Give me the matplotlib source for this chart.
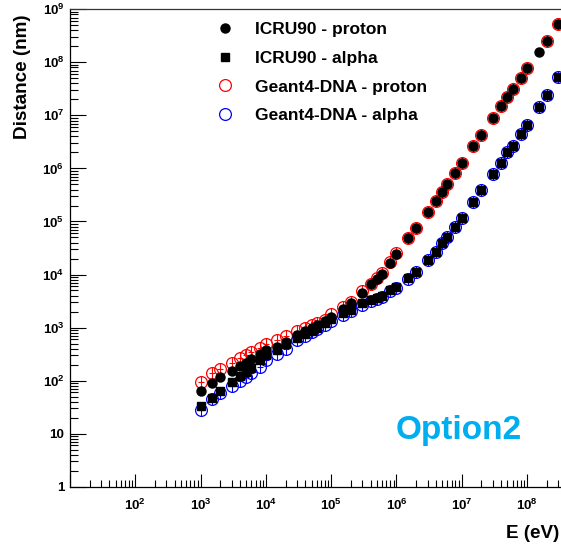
import numpy as np
import matplotlib
matplotlib.use("Agg")
import matplotlib.pyplot as plt
from matplotlib.ticker import FixedLocator, FixedFormatter, LogLocator, NullFormatter

plt.rcParams['font.family'] = ['Liberation Sans', 'DejaVu Sans']
plt.rcParams['font.weight'] = 'bold'
plt.rcParams['mathtext.fontset'] = 'custom'
plt.rcParams['mathtext.rm'] = 'Liberation Sans:bold'
plt.rcParams['mathtext.it'] = 'Liberation Sans:bold'
plt.rcParams['mathtext.bf'] = 'Liberation Sans:bold'

# energies (eV)
energy = [1e3, 1.5e3, 2e3, 3e3, 4e3, 5e3, 6e3, 8e3,
          1e4, 1.5e4, 2e4, 3e4, 4e4, 5e4, 6e4, 8e4,
          1e5, 1.5e5, 2e5, 3e5, 4e5, 5e5, 6e5, 8e5,
          1e6, 1.5e6, 2e6, 3e6, 4e6, 5e6, 6e6, 8e6,
          1e7, 1.5e7, 2e7, 3e7, 4e7, 5e7, 6e7, 8e7,
          1e8, 1.5e8, 2e8, 3e8]

# distances (nm)
icru_proton = [63, 89, 115, 155, 191, 219, 251, 324,
               380, 437, 537, 724, 871, 1000, 1120, 1320,
               1580, 2240, 2880, 4570, 6610, 8320, 1.02e4, 1.66e4,
               2.45e4, 4.79e4, 7.41e4, 1.51e5, 2.45e5, 3.63e5, 5.13e5, 8.32e5,
               1.26e6, 2.63e6, 4.27e6, 9.12e6, 1.51e7, 2.19e7, 3.09e7, 5.01e7,
               7.76e7, 1.58e8, 2.51e8, 5.25e8]
icru_alpha = [33, 48, 63, 93, 123, 148, 170, 240,
              302, 380, 490, 631, 759, 871, 977, 1200,
              1480, 1910, 2190, 2880, 3240, 3550, 3980, 5010,
              5890, 8510, 1.12e4, 1.86e4, 2.69e4, 3.89e4, 5.13e4, 7.94e4,
              1.15e5, 2.34e5, 3.89e5, 7.94e5, 1.26e6, 2.0e6, 2.69e6, 4.47e6,
              6.61e6, 1.45e7, 2.45e7, 5.37e7]
g4_proton = [95, 138, 162, 219, 263, 302, 339, 407,
             490, 575, 708, 851, 1000, 1120, 1230, 1410,
             1820, 2450, 3090, 4790, 6760, 8510, 1.05e4, 1.70e4,
             2.51e4, 4.79e4, 7.41e4, 1.51e5, 2.45e5, 3.63e5, 5.13e5, 8.32e5,
             1.26e6, 2.63e6, 4.27e6, 9.12e6, 1.51e7, 2.19e7, 3.09e7, 5.01e7,
             7.76e7, np.nan, 2.51e8, 5.25e8]
g4_alpha = [28, 45, 58, 79, 98, 117, 138, 182,
            245, 324, 398, 589, 708, 832, 933, 1120,
            1350, 1740, 2040, 2690, 3160, 3470, 3800, 4790,
            5620, 8320, 1.12e4, 1.86e4, 2.69e4, 3.89e4, 5.13e4, 7.94e4,
            1.15e5, 2.34e5, 3.89e5, 7.94e5, 1.26e6, 2.0e6, 2.69e6, 4.47e6,
            6.61e6, 1.45e7, 2.45e7, 5.37e7]

W, H = 561, 546
fig = plt.figure(figsize=(W / 100, H / 100), dpi=100)
ax = fig.add_axes([70 / W, 1 - 486.7 / H, 522.4 / W, 477.4 / H])

red = (1, 0, 0)
blue = (0, 0, 1)

# open circles (Geant4-DNA) with the little error crosses inside
h_g4p, = ax.plot(energy, g4_proton, 'o', ls='none', mfc='none', mec=red, ms=8.5, mew=0.9, zorder=2)
h_g4a, = ax.plot(energy, g4_alpha, 'o', ls='none', mfc='none', mec=blue, ms=8.5, mew=0.9, zorder=2)
for ys, c in [(g4_proton, red), (g4_alpha, blue)]:
    ax.plot(energy, ys, '|', ls='none', color=c, ms=8.5, mew=0.8, zorder=2)
    ax.plot(energy, ys, '_', ls='none', color=c, ms=4, mew=0.8, zorder=2)

h_ip, = ax.plot(energy, icru_proton, 'o', ls='none', color='black', ms=6.5, zorder=3)
h_ia, = ax.plot(energy, icru_alpha, 's', ls='none', color='black', ms=6, zorder=3)

ax.set_xscale('log')
ax.set_yscale('log')
ax.set_xlim(10, 1e9)
ax.set_ylim(1, 1e9)

ax.xaxis.set_major_locator(FixedLocator([10.0 ** k for k in range(1, 10)]))
ax.xaxis.set_major_formatter(FixedFormatter([''] + [r'$10^{%d}$' % k for k in range(2, 9)] + ['']))
ax.yaxis.set_major_locator(FixedLocator([10.0 ** k for k in range(0, 10)]))
ax.yaxis.set_major_formatter(FixedFormatter(['1', '10'] + [r'$10^{%d}$' % k for k in range(2, 10)]))
ax.xaxis.set_minor_locator(LogLocator(base=10, subs=np.arange(2, 10), numticks=20))
ax.yaxis.set_minor_locator(LogLocator(base=10, subs=np.arange(2, 10), numticks=20))
ax.xaxis.set_minor_formatter(NullFormatter())
ax.yaxis.set_minor_formatter(NullFormatter())

ax.tick_params(axis='x', which='major', direction='in', length=9.4, width=0.8, labelsize=9.6, pad=8)
ax.tick_params(axis='x', which='minor', direction='in', length=5, width=0.8)
ax.tick_params(axis='y', which='major', direction='in', length=11.5, width=0.8, labelsize=9.6, pad=4)
ax.tick_params(axis='y', which='minor', direction='in', length=5.8, width=0.8)
ax.tick_params(top=False, right=False)
for s in ax.spines.values():
    s.set_linewidth(0.9)
ax.spines['top'].set_color('#333333')

ax.legend([h_ip, h_ia, h_g4p, h_g4a],
          ['ICRU90 - proton', 'ICRU90 - alpha', 'Geant4-DNA - proton', 'Geant4-DNA - alpha'],
          loc='upper left', bbox_to_anchor=(208 / W, 1 - 22 / H), bbox_transform=fig.transFigure,
          frameon=False, fontsize=12.5, handlelength=2.0, handletextpad=0.7,
          labelspacing=0.78, borderpad=0, borderaxespad=0, numpoints=1)

ax.text(459 / W, 1 - 430 / H, 'Option2', transform=fig.transFigure, color='#00AEEF',
        fontsize=24, fontweight='bold', ha='center', va='center')

fig.text(23 / W, 1 - 14 / H, 'Distance (nm)', rotation=90, ha='center', va='top',
         fontsize=13.6, fontweight='bold')
fig.text(559 / W, 1 - 534 / H, 'E (eV)', ha='right', va='center',
         fontsize=13.6, fontweight='bold')

fig.savefig('out.png', dpi=100)
